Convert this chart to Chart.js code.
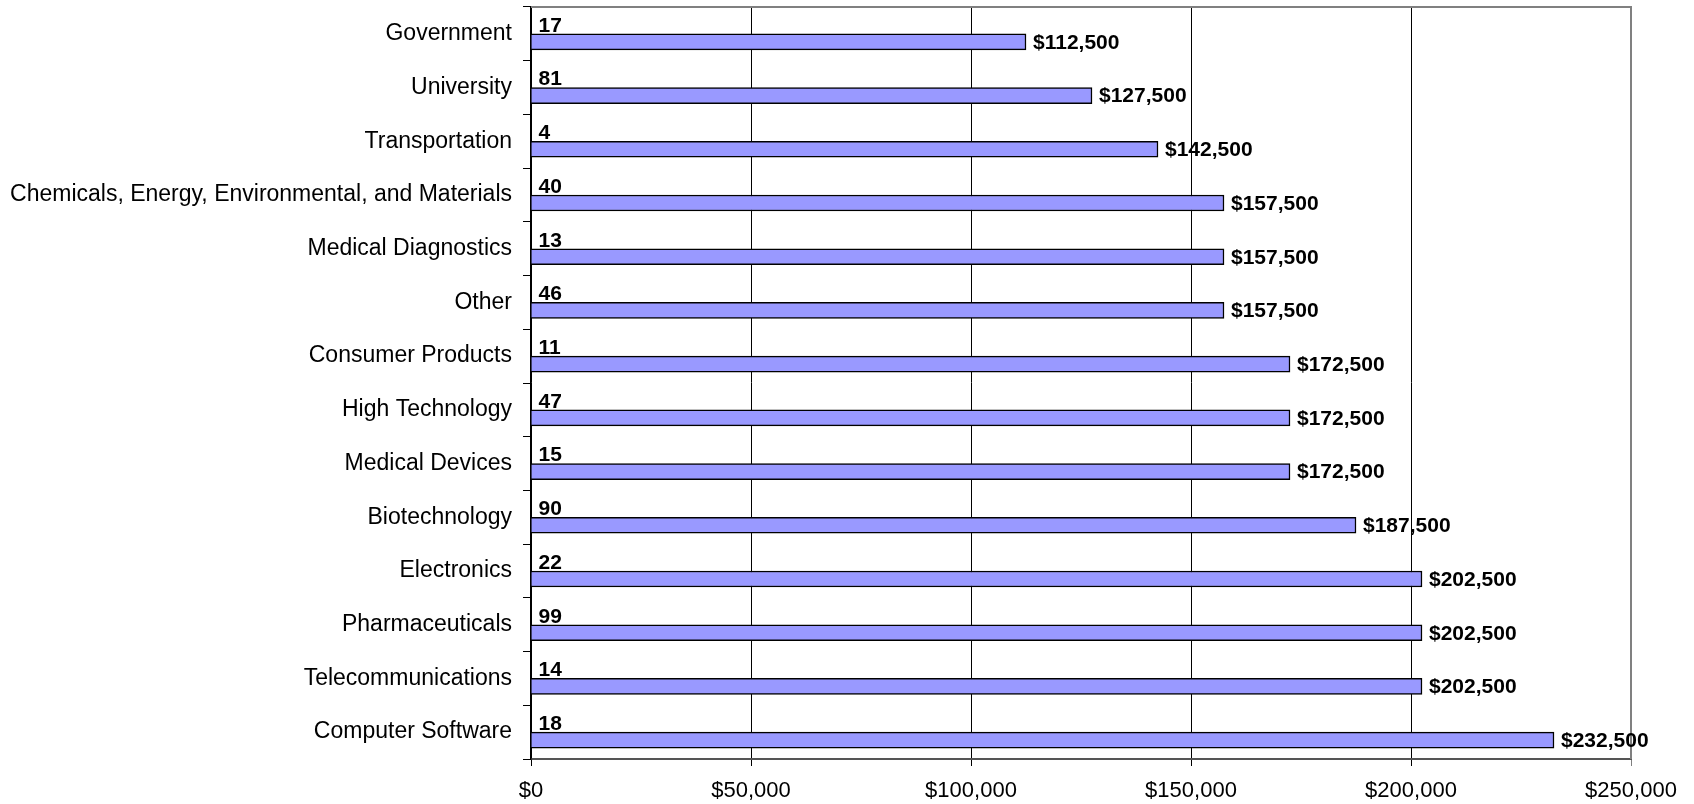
<!DOCTYPE html>
<html>
<head>
<meta charset="utf-8">
<script src="https://cdn.jsdelivr.net/npm/chart.js@4/dist/chart.umd.min.js"></script>
<style>
  html, body { margin: 0; padding: 0; background: #fff; }
  #wrap { width: 1694px; height: 804px; }
</style>
</head>
<body>
<div id="wrap"><canvas id="salaryChart" width="1694" height="804"></canvas></div>
<script>
// categories, top to bottom
const industries = [
    'Government', 'University', 'Transportation',
    'Chemicals, Energy, Environmental, and Materials',
    'Medical Diagnostics', 'Other', 'Consumer Products', 'High Technology',
    'Medical Devices', 'Biotechnology', 'Electronics', 'Pharmaceuticals',
    'Telecommunications', 'Computer Software'
];
// respondents per industry (small label above each bar)
const counts = [17, 81, 4, 40, 13, 46, 11, 47, 15, 90, 22, 99, 14, 18];
// salary values
const salaries = [112500, 127500, 142500, 157500, 157500, 157500, 172500, 172500,
    172500, 187500, 202500, 202500, 202500, 232500];
const xTicks = [0, 50000, 100000, 150000, 200000, 250000];

const FONT = '"Liberation Sans", Arial, sans-serif';
const money = v => '$' + v.toLocaleString('en-US');

const plotFrame = {
    id: 'plotFrame',
    beforeDatasetsDraw(chart) {
        const a = chart.chartArea;
        const ctx = chart.ctx;
        ctx.save();
        ctx.strokeStyle = '#808080';
        ctx.lineWidth = 2;
        ctx.beginPath();
        ctx.moveTo(a.left, a.top);
        ctx.lineTo(a.right, a.top);
        ctx.lineTo(a.right, a.bottom);
        ctx.stroke();
        ctx.restore();
    }
};

const valueLabels = {
    id: 'valueLabels',
    afterDatasetsDraw(chart) {
        const ctx = chart.ctx;
        ctx.save();
        ctx.font = 'bold 21px ' + FONT;
        ctx.fillStyle = '#000';
        ctx.textAlign = 'left';
        ctx.textBaseline = 'middle';
        chart.getDatasetMeta(0).data.forEach((bar, i) => {
            ctx.fillText(String(counts[i]), bar.base + 7, bar.y);
        });
        chart.getDatasetMeta(1).data.forEach((bar, i) => {
            ctx.fillText(money(salaries[i]), bar.x + 7, bar.y + 1);
        });
        ctx.restore();
    }
};

const ctx = document.getElementById('salaryChart').getContext('2d');
new Chart(ctx, {
    type: 'bar',
    data: {
        labels: industries,
        datasets: [{
            label: 'Respondents',
            data: counts,
            backgroundColor: 'rgba(0,0,0,0)',
            borderWidth: 0,
            barThickness: 16
        }, {
            label: 'Salary',
            data: salaries,
            backgroundColor: '#9999FF',
            borderColor: '#000',
            borderWidth: 1.5,
            barThickness: 16
        }]
    },
    options: {
        indexAxis: 'y',
        responsive: false,
        animation: false,
        layout: { padding: { top: 7, right: 63, left: 0, bottom: 0 } },
        plugins: {
            legend: { display: false },
            tooltip: { enabled: false }
        },
        scales: {
            x: {
                min: 0,
                max: 250000,
                afterBuildTicks: axis => { axis.ticks = xTicks.map(v => ({ value: v })); },
                afterFit: axis => {
                    axis.height = 45;
                    axis.paddingLeft = 0;
                    axis.paddingRight = 0;
                },
                ticks: {
                    color: '#000',
                    padding: 12,
                    font: { family: FONT, size: 22 },
                    callback: v => money(v)
                },
                grid: {
                    color: c => (c.tick && c.tick.value === 250000) ? '#808080' : '#000',
                    lineWidth: 1,
                    tickLength: 7
                },
                border: { color: '#555', width: 2 }
            },
            y: {
                afterFit: axis => {
                    axis.width = 531;
                    axis.paddingTop = 0;
                    axis.paddingBottom = 0;
                },
                ticks: {
                    color: '#000',
                    padding: 11,
                    autoSkip: false,
                    font: { family: FONT, size: 23 }
                },
                grid: {
                    drawOnChartArea: false,
                    color: '#000',
                    tickLength: 8,
                    offset: true
                },
                border: { color: '#000', width: 1.5 }
            }
        }
    },
    plugins: [plotFrame, valueLabels]
});
</script>
</body>
</html>
